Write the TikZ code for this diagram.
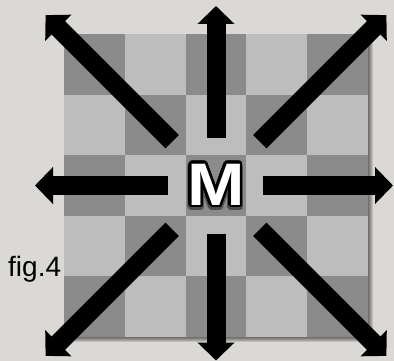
\documentclass[tikz,border=0pt]{standalone}
\usepackage{fontspec}
\setmainfont{Liberation Sans}
\usepackage{contour}
\usetikzlibrary{arrows.meta}
\definecolor{paper}{HTML}{DAD9D6}
\definecolor{cellLight}{HTML}{BDBDBD}
\definecolor{cellDark}{HTML}{8B8B8B}
\contourlength{2.2pt}
\contournumber{40}

\begin{document}
\begin{tikzpicture}[x=1pt, y=-1pt,
    ray/.style={line width=19pt, -{Triangle[width=36pt, length=18pt]}},
    letter/.style={inner sep=0pt, font=\fontsize{60}{60}\selectfont\bfseries}]
  \fill[paper] (0,0) rectangle (394,361);
  \useasboundingbox (0,0) rectangle (394,361);
  % board shadow
  \foreach \k in {1,...,5}
    \fill[black, opacity=0.12] (64+\k,34+\k) rectangle (368+\k,337+\k);
  % board
  \fill[cellLight] (64,34) rectangle (368,337);
  \foreach \i in {0,...,4} {
    \foreach \j in {0,...,4} {
      \ifodd\numexpr\i+\j\relax\else
        \fill[cellDark] (64+60.8*\i,34+60.6*\j) rectangle ++(60.8,60.6);
      \fi
    }
  }
  % centre letter
  \node[letter, text=black!70, opacity=0.45] (mshadow) at (216,188.5)
    {\contourlength{3pt}\scalebox{1.15}[1]{\contour{black!70}{M}}};
  \node[letter, text=white] (m) at (216,185.5)
    {\scalebox{1.15}[1]{\contour{black}{M}}};
  % rays
  \foreach \a/\r/\R in {0/47/177, 180/48/181, 90/48/175, 270/48/179.5,
                        45/62/241, 135/62/241, 225/62/241, 315/62/241} {
    \coordinate (s\a) at ([shift={(\a:\r)}]m.center);
    \coordinate (t\a) at ([shift={(\a:\R)}]m.center);
    \draw[ray] (s\a) -- (t\a);
  }
  % Annotations
  \node[anchor=base west, inner sep=0pt, font=\fontsize{28}{28}\selectfont]
    (figlabel) at (8,276) {fig.4};
\end{tikzpicture}
\end{document}
